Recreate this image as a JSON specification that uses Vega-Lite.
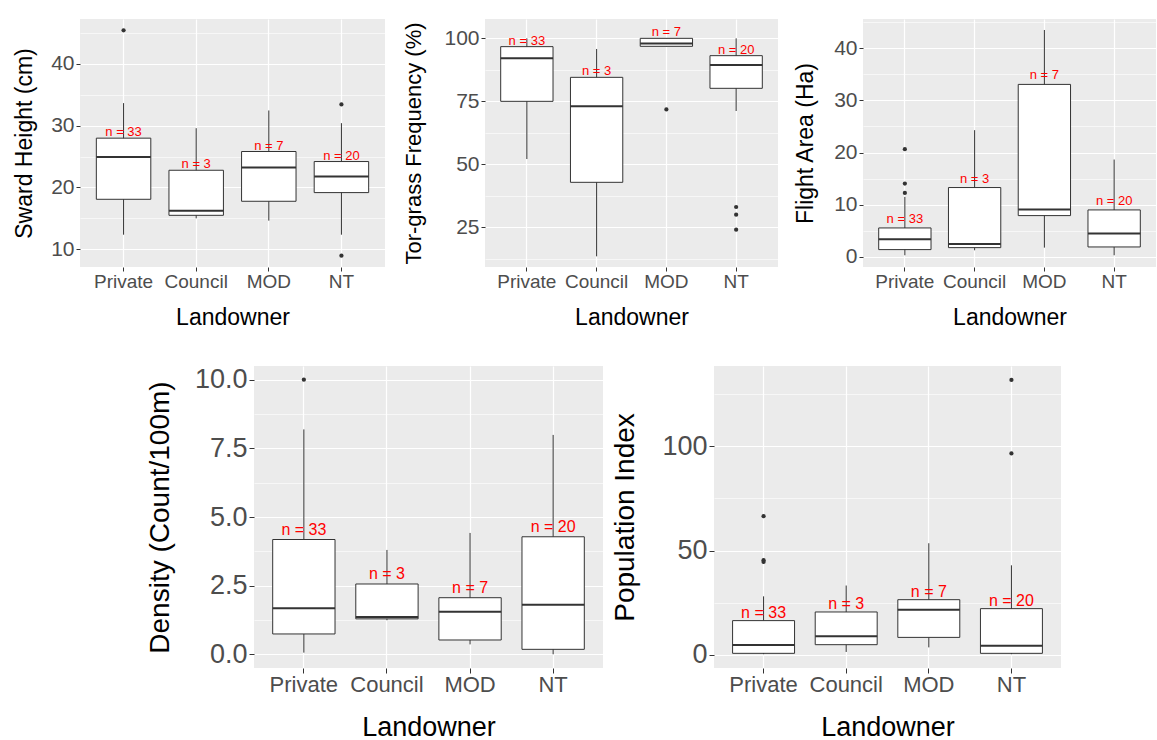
{
  "$schema": "https://vega.github.io/schema/vega-lite/v6.json",
  "background": "white",
  "padding": {"left": 13, "top": 19, "right": 1, "bottom": 0},
  "spacing": 36,
  "config": {
    "view": {"fill": "#EBEBEB", "stroke": null},
    "axis": {"domain": false, "tickColor": "#333333", "tickWidth": 1, "labelColor": "#4D4D4D", "labelFont": "Liberation Sans", "titleFont": "Liberation Sans", "titleFontWeight": "normal", "titleColor": "#000000", "gridColor": "#FFFFFF"},
    "text": {"font": "Liberation Sans"}
  },
  "datasets": {
    "box": [
      {"panel": "sward", "landowner": "Private", "lower": 12.37, "q1": 18.09, "median": 24.94, "q3": 27.97, "upper": 33.63, "label": "n = 33"},
      {"panel": "sward", "landowner": "Council", "lower": 15.01, "q1": 15.5, "median": 16.25, "q3": 22.78, "upper": 29.58, "label": "n = 3"},
      {"panel": "sward", "landowner": "MOD", "lower": 14.64, "q1": 17.77, "median": 23.22, "q3": 25.81, "upper": 32.44, "label": "n = 7"},
      {"panel": "sward", "landowner": "NT", "lower": 12.37, "q1": 19.17, "median": 21.76, "q3": 24.19, "upper": 30.39, "label": "n = 20"},
      {"panel": "tor", "landowner": "Private", "lower": 52.1, "q1": 75.0, "median": 92.06, "q3": 96.7, "upper": 100, "label": "n = 33"},
      {"panel": "tor", "landowner": "Council", "lower": 13.49, "q1": 42.86, "median": 73.02, "q3": 84.52, "upper": 95.77, "label": "n = 3"},
      {"panel": "tor", "landowner": "MOD", "lower": 96.83, "q1": 96.83, "median": 97.9, "q3": 100, "upper": 100, "label": "n = 7"},
      {"panel": "tor", "landowner": "NT", "lower": 71.16, "q1": 80.16, "median": 89.42, "q3": 93.12, "upper": 100, "label": "n = 20"},
      {"panel": "flight", "landowner": "Private", "lower": 0.26, "q1": 1.35, "median": 3.33, "q3": 5.51, "upper": 11.47, "label": "n = 33"},
      {"panel": "flight", "landowner": "Council", "lower": 1.22, "q1": 1.73, "median": 2.44, "q3": 13.27, "upper": 24.29, "label": "n = 3"},
      {"panel": "flight", "landowner": "MOD", "lower": 1.73, "q1": 7.88, "median": 9.04, "q3": 33.08, "upper": 43.53, "label": "n = 7"},
      {"panel": "flight", "landowner": "NT", "lower": 0.26, "q1": 1.86, "median": 4.42, "q3": 8.97, "upper": 18.65, "label": "n = 20"},
      {"panel": "density", "landowner": "Private", "lower": 0.06, "q1": 0.74, "median": 1.68, "q3": 4.18, "upper": 8.19, "label": "n = 33"},
      {"panel": "density", "landowner": "Council", "lower": 1.24, "q1": 1.29, "median": 1.36, "q3": 2.56, "upper": 3.8, "label": "n = 3"},
      {"panel": "density", "landowner": "MOD", "lower": 0.36, "q1": 0.52, "median": 1.55, "q3": 2.06, "upper": 4.42, "label": "n = 7"},
      {"panel": "density", "landowner": "NT", "lower": 0.0, "q1": 0.18, "median": 1.8, "q3": 4.28, "upper": 7.99, "label": "n = 20"},
      {"panel": "pop", "landowner": "Private", "lower": 0.2, "q1": 0.64, "median": 4.65, "q3": 16.35, "upper": 28.0, "label": "n = 33"},
      {"panel": "pop", "landowner": "Council", "lower": 1.3, "q1": 4.8, "median": 8.8, "q3": 20.5, "upper": 33.2, "label": "n = 3"},
      {"panel": "pop", "landowner": "MOD", "lower": 3.5, "q1": 8.3, "median": 21.6, "q3": 26.4, "upper": 53.5, "label": "n = 7"},
      {"panel": "pop", "landowner": "NT", "lower": 0.2, "q1": 0.64, "median": 4.3, "q3": 22.1, "upper": 42.9, "label": "n = 20"}
    ],
    "out": [
      {"panel": "sward", "landowner": "Private", "value": 45.4},
      {"panel": "sward", "landowner": "NT", "value": 33.42},
      {"panel": "sward", "landowner": "NT", "value": 8.97},
      {"panel": "tor", "landowner": "MOD", "value": 71.8},
      {"panel": "tor", "landowner": "NT", "value": 33.07},
      {"panel": "tor", "landowner": "NT", "value": 30.03},
      {"panel": "tor", "landowner": "NT", "value": 24.07},
      {"panel": "flight", "landowner": "Private", "value": 20.64},
      {"panel": "flight", "landowner": "Private", "value": 14.04},
      {"panel": "flight", "landowner": "Private", "value": 12.24},
      {"panel": "density", "landowner": "Private", "value": 10.0},
      {"panel": "pop", "landowner": "Private", "value": 66.5},
      {"panel": "pop", "landowner": "Private", "value": 45.35},
      {"panel": "pop", "landowner": "Private", "value": 44.55},
      {"panel": "pop", "landowner": "NT", "value": 131.9},
      {"panel": "pop", "landowner": "NT", "value": 96.6}
    ]
  },
  "vconcat": [
    {
      "spacing": 16,
      "hconcat": [
        {
          "width": 305, "height": 248,
          "encoding": {"x": {"field": "landowner", "type": "nominal", "sort": ["Private", "Council", "MOD", "NT"], "scale": {"paddingInner": 0, "paddingOuter": 0.1}, "axis": {"title": "Landowner", "labelAngle": 0, "bandPosition": 0.5, "grid": true, "gridWidth": 1.2, "tickSize": 4, "labelPadding": 1, "labelFontSize": 19, "titleFontSize": 23, "titlePadding": 15, "minExtent": 24, "maxExtent": 24}}},
          "layer": [
            {"data": {"name": "box"}, "transform": [{"filter": "datum.panel == 'sward'"}], "mark": {"type": "rule", "color": "#333333", "strokeWidth": 1},
             "encoding": {"y": {"field": "lower", "type": "quantitative", "scale": {"domain": [7.15, 47.22], "nice": false, "zero": false}, "axis": {"orient": "left", "values": [15, 25, 35, 45], "grid": true, "gridWidth": 0.6, "labels": false, "ticks": false, "title": null}}, "y2": {"field": "upper"}}},
            {"data": {"name": "box"}, "transform": [{"filter": "datum.panel == 'sward'"}], "mark": {"type": "bar", "width": {"band": 0.75}, "fill": "white", "stroke": "#333333", "strokeWidth": 1},
             "encoding": {"y": {"field": "q1", "type": "quantitative", "axis": {"orient": "left", "title": "Sward Height (cm)", "values": [10, 20, 30, 40], "grid": true, "gridWidth": 1.2, "tickSize": 4, "labelPadding": 2, "labelFontSize": 21, "titleFontSize": 23, "titlePadding": 14, "minExtent": 30, "maxExtent": 30}}, "y2": {"field": "q3"}}},
            {"data": {"name": "box"}, "transform": [{"filter": "datum.panel == 'sward'"}], "mark": {"type": "bar", "width": {"band": 0.75}, "fill": "white", "stroke": "#333333", "strokeWidth": 2},
             "encoding": {"y": {"field": "median", "type": "quantitative", "axis": null}, "y2": {"field": "median"}}},
            {"data": {"name": "out"}, "transform": [{"filter": "datum.panel == 'sward'"}], "mark": {"type": "circle", "color": "#333333", "size": 18, "opacity": 1},
             "encoding": {"y": {"field": "value", "type": "quantitative", "axis": null}}},
            {"data": {"name": "box"}, "transform": [{"filter": "datum.panel == 'sward'"}], "mark": {"type": "text", "color": "#FF0000", "fontSize": 13, "baseline": "alphabetic", "dy": -2},
             "encoding": {"y": {"field": "q3", "type": "quantitative", "axis": null}, "text": {"field": "label"}}}
          ],
          "resolve": {"axis": {"y": "independent"}}
        },
        {
          "width": 293, "height": 248,
          "encoding": {"x": {"field": "landowner", "type": "nominal", "sort": ["Private", "Council", "MOD", "NT"], "scale": {"paddingInner": 0, "paddingOuter": 0.1}, "axis": {"title": "Landowner", "labelAngle": 0, "bandPosition": 0.5, "grid": true, "gridWidth": 1.2, "tickSize": 4, "labelPadding": 1, "labelFontSize": 19, "titleFontSize": 23, "titlePadding": 15, "minExtent": 24, "maxExtent": 24}}},
          "layer": [
            {"data": {"name": "box"}, "transform": [{"filter": "datum.panel == 'tor'"}], "mark": {"type": "rule", "color": "#333333", "strokeWidth": 1},
             "encoding": {"y": {"field": "lower", "type": "quantitative", "scale": {"domain": [9.26, 107.67], "nice": false, "zero": false}, "axis": {"orient": "left", "values": [12.5, 37.5, 62.5, 87.5], "grid": true, "gridWidth": 0.6, "labels": false, "ticks": false, "title": null}}, "y2": {"field": "upper"}}},
            {"data": {"name": "box"}, "transform": [{"filter": "datum.panel == 'tor'"}], "mark": {"type": "bar", "width": {"band": 0.75}, "fill": "white", "stroke": "#333333", "strokeWidth": 1},
             "encoding": {"y": {"field": "q1", "type": "quantitative", "axis": {"orient": "left", "title": "Tor-grass Frequency (%)", "values": [25, 50, 75, 100], "grid": true, "gridWidth": 1.2, "tickSize": 4, "labelPadding": 2, "labelFontSize": 21, "titleFontSize": 22, "titlePadding": 19, "minExtent": 41, "maxExtent": 41}}, "y2": {"field": "q3"}}},
            {"data": {"name": "box"}, "transform": [{"filter": "datum.panel == 'tor'"}], "mark": {"type": "bar", "width": {"band": 0.75}, "fill": "white", "stroke": "#333333", "strokeWidth": 2},
             "encoding": {"y": {"field": "median", "type": "quantitative", "axis": null}, "y2": {"field": "median"}}},
            {"data": {"name": "out"}, "transform": [{"filter": "datum.panel == 'tor'"}], "mark": {"type": "circle", "color": "#333333", "size": 18, "opacity": 1},
             "encoding": {"y": {"field": "value", "type": "quantitative", "axis": null}}},
            {"data": {"name": "box"}, "transform": [{"filter": "datum.panel == 'tor'"}], "mark": {"type": "text", "color": "#FF0000", "fontSize": 13, "baseline": "alphabetic", "dy": -2},
             "encoding": {"y": {"field": "q3", "type": "quantitative", "axis": null}, "text": {"field": "label"}}}
          ],
          "resolve": {"axis": {"y": "independent"}}
        },
        {
          "width": 293, "height": 248,
          "encoding": {"x": {"field": "landowner", "type": "nominal", "sort": ["Private", "Council", "MOD", "NT"], "scale": {"paddingInner": 0, "paddingOuter": 0.1}, "axis": {"title": "Landowner", "labelAngle": 0, "bandPosition": 0.5, "grid": true, "gridWidth": 1.2, "tickSize": 4, "labelPadding": 1, "labelFontSize": 19, "titleFontSize": 23, "titlePadding": 15, "minExtent": 24, "maxExtent": 24}}},
          "layer": [
            {"data": {"name": "box"}, "transform": [{"filter": "datum.panel == 'flight'"}], "mark": {"type": "rule", "color": "#333333", "strokeWidth": 1},
             "encoding": {"y": {"field": "lower", "type": "quantitative", "scale": {"domain": [-1.99, 45.64], "nice": false, "zero": false}, "axis": {"orient": "left", "values": [5, 15, 25, 35, 45], "grid": true, "gridWidth": 0.6, "labels": false, "ticks": false, "title": null}}, "y2": {"field": "upper"}}},
            {"data": {"name": "box"}, "transform": [{"filter": "datum.panel == 'flight'"}], "mark": {"type": "bar", "width": {"band": 0.75}, "fill": "white", "stroke": "#333333", "strokeWidth": 1},
             "encoding": {"y": {"field": "q1", "type": "quantitative", "axis": {"orient": "left", "title": "Flight Area (Ha)", "values": [0, 10, 20, 30, 40], "grid": true, "gridWidth": 1.2, "tickSize": 4, "labelPadding": 2, "labelFontSize": 21, "titleFontSize": 23, "titlePadding": 16, "minExtent": 30, "maxExtent": 30}}, "y2": {"field": "q3"}}},
            {"data": {"name": "box"}, "transform": [{"filter": "datum.panel == 'flight'"}], "mark": {"type": "bar", "width": {"band": 0.75}, "fill": "white", "stroke": "#333333", "strokeWidth": 2},
             "encoding": {"y": {"field": "median", "type": "quantitative", "axis": null}, "y2": {"field": "median"}}},
            {"data": {"name": "out"}, "transform": [{"filter": "datum.panel == 'flight'"}], "mark": {"type": "circle", "color": "#333333", "size": 18, "opacity": 1},
             "encoding": {"y": {"field": "value", "type": "quantitative", "axis": null}}},
            {"data": {"name": "box"}, "transform": [{"filter": "datum.panel == 'flight'"}], "mark": {"type": "text", "color": "#FF0000", "fontSize": 13, "baseline": "alphabetic", "dy": -5},
             "encoding": {"y": {"field": "q3", "type": "quantitative", "axis": null}, "text": {"field": "label"}}}
          ],
          "resolve": {"axis": {"y": "independent"}}
        }
      ]
    },
    {
      "spacing": 8,
      "hconcat": [
        {"width": 56.5, "height": 10, "data": {"values": []}, "mark": "point", "view": {"fill": null, "stroke": null}},
        {
          "width": 349, "height": 302,
          "encoding": {"x": {"field": "landowner", "type": "nominal", "sort": ["Private", "Council", "MOD", "NT"], "scale": {"paddingInner": 0, "paddingOuter": 0.1}, "axis": {"title": "Landowner", "labelAngle": 0, "bandPosition": 0.5, "grid": true, "gridWidth": 1.2, "tickSize": 5, "labelPadding": 1, "labelFontSize": 22, "titleFontSize": 27, "titlePadding": 18, "minExtent": 28, "maxExtent": 28}}},
          "layer": [
            {"data": {"name": "box"}, "transform": [{"filter": "datum.panel == 'density'"}], "mark": {"type": "rule", "color": "#333333", "strokeWidth": 1},
             "encoding": {"y": {"field": "lower", "type": "quantitative", "scale": {"domain": [-0.5, 10.5], "nice": false, "zero": false}, "axis": {"orient": "left", "values": [1.25, 3.75, 6.25, 8.75], "grid": true, "gridWidth": 0.6, "labels": false, "ticks": false, "title": null}}, "y2": {"field": "upper"}}},
            {"data": {"name": "box"}, "transform": [{"filter": "datum.panel == 'density'"}], "mark": {"type": "bar", "width": {"band": 0.75}, "fill": "white", "stroke": "#333333", "strokeWidth": 1},
             "encoding": {"y": {"field": "q1", "type": "quantitative", "axis": {"orient": "left", "title": "Density (Count/100m)", "values": [0, 2.5, 5, 7.5, 10], "format": ".1f", "grid": true, "gridWidth": 1.2, "tickSize": 5, "labelPadding": 2, "labelFontSize": 27, "titleFontSize": 28, "titlePadding": 20, "minExtent": 60, "maxExtent": 60}}, "y2": {"field": "q3"}}},
            {"data": {"name": "box"}, "transform": [{"filter": "datum.panel == 'density'"}], "mark": {"type": "bar", "width": {"band": 0.75}, "fill": "white", "stroke": "#333333", "strokeWidth": 2},
             "encoding": {"y": {"field": "median", "type": "quantitative", "axis": null}, "y2": {"field": "median"}}},
            {"data": {"name": "out"}, "transform": [{"filter": "datum.panel == 'density'"}], "mark": {"type": "circle", "color": "#333333", "size": 18, "opacity": 1},
             "encoding": {"y": {"field": "value", "type": "quantitative", "axis": null}}},
            {"data": {"name": "box"}, "transform": [{"filter": "datum.panel == 'density'"}], "mark": {"type": "text", "color": "#FF0000", "fontSize": 16, "baseline": "alphabetic", "dy": -5},
             "encoding": {"y": {"field": "q3", "type": "quantitative", "axis": null}, "text": {"field": "label"}}}
          ],
          "resolve": {"axis": {"y": "independent"}}
        },
        {
          "width": 347, "height": 302,
          "encoding": {"x": {"field": "landowner", "type": "nominal", "sort": ["Private", "Council", "MOD", "NT"], "scale": {"paddingInner": 0, "paddingOuter": 0.1}, "axis": {"title": "Landowner", "labelAngle": 0, "bandPosition": 0.5, "grid": true, "gridWidth": 1.2, "tickSize": 5, "labelPadding": 1, "labelFontSize": 22, "titleFontSize": 27, "titlePadding": 18, "minExtent": 28, "maxExtent": 28}}},
          "layer": [
            {"data": {"name": "box"}, "transform": [{"filter": "datum.panel == 'pop'"}], "mark": {"type": "rule", "color": "#333333", "strokeWidth": 1},
             "encoding": {"y": {"field": "lower", "type": "quantitative", "scale": {"domain": [-6.4, 138.6], "nice": false, "zero": false}, "axis": {"orient": "left", "values": [25, 75, 125], "grid": true, "gridWidth": 0.6, "labels": false, "ticks": false, "title": null}}, "y2": {"field": "upper"}}},
            {"data": {"name": "box"}, "transform": [{"filter": "datum.panel == 'pop'"}], "mark": {"type": "bar", "width": {"band": 0.75}, "fill": "white", "stroke": "#333333", "strokeWidth": 1},
             "encoding": {"y": {"field": "q1", "type": "quantitative", "axis": {"orient": "left", "title": "Population Index", "values": [0, 50, 100], "grid": true, "gridWidth": 1.2, "tickSize": 5, "labelPadding": 2, "labelFontSize": 27, "titleFontSize": 28, "titlePadding": 23, "minExtent": 52, "maxExtent": 52}}, "y2": {"field": "q3"}}},
            {"data": {"name": "box"}, "transform": [{"filter": "datum.panel == 'pop'"}], "mark": {"type": "bar", "width": {"band": 0.75}, "fill": "white", "stroke": "#333333", "strokeWidth": 2},
             "encoding": {"y": {"field": "median", "type": "quantitative", "axis": null}, "y2": {"field": "median"}}},
            {"data": {"name": "out"}, "transform": [{"filter": "datum.panel == 'pop'"}], "mark": {"type": "circle", "color": "#333333", "size": 18, "opacity": 1},
             "encoding": {"y": {"field": "value", "type": "quantitative", "axis": null}}},
            {"data": {"name": "box"}, "transform": [{"filter": "datum.panel == 'pop'"}], "mark": {"type": "text", "color": "#FF0000", "fontSize": 16, "baseline": "alphabetic", "dy": -3},
             "encoding": {"y": {"field": "q3", "type": "quantitative", "axis": null}, "text": {"field": "label"}}}
          ],
          "resolve": {"axis": {"y": "independent"}}
        }
      ]
    }
  ]
}
